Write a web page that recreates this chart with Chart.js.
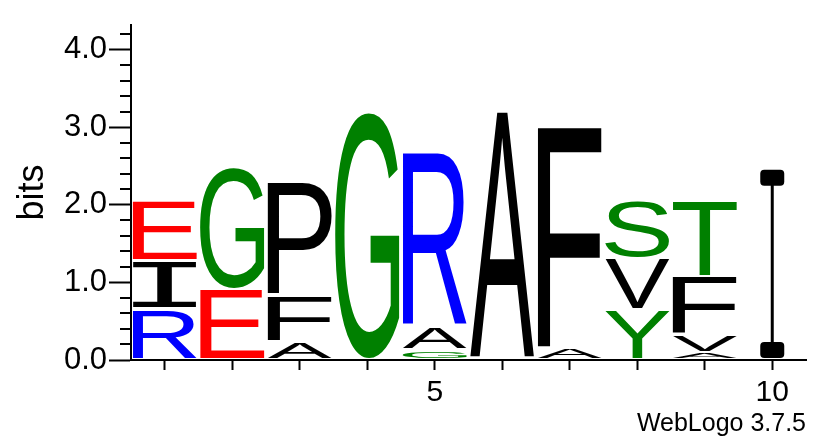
<!DOCTYPE html>
<html>
<head>
<meta charset="utf-8">
<script src="https://cdn.jsdelivr.net/npm/chart.js@4.4.1/dist/chart.umd.min.js"></script>
<style>
  html, body { margin: 0; padding: 0; background: #fff; }
  canvas { display: block; }
</style>
</head>
<body>
<canvas id="logo" width="831" height="444"></canvas>
<script>
// sequence positions and which of them get a tick label
const positions = ["1", "2", "3", "4", "5", "6", "7", "8", "9", "10"];
const labelledTicks = ["5", "10"];
const yMajorTicks = [0, 1, 2, 3, 4];

// stack layers, bottom to top (letter + height in bits per position)
const layer1Letters = ["R", "E", "A", "G", "G", "A", "A", "Y", "A", ""];
const layer1Bits = [0.66, 0.92, 0.245, 3.205, 0.13, 3.215, 0.16, 0.65, 0.10, 0];
const layer2Letters = ["I", "G", "F", "", "A", "", "F", "V", "V", ""];
const layer2Bits = [0.62, 1.585, 0.605, 0, 0.30, 0, 2.855, 0.66, 0.24, 0];
const layer3Letters = ["E", "", "P", "", "R", "", "", "S", "F", ""];
const layer3Bits = [0.785, 0, 1.455, 0, 2.255, 0, 0, 0.755, 0.74, 0];
const layer4Letters = ["", "", "", "", "", "", "", "", "T", ""];
const layer4Bits = [0, 0, 0, 0, 0, 0, 0, 0, 0.985, 0];

// error bars (only the last column has one)
const errorLow = [null, null, null, null, null, null, null, null, null, 0.13];
const errorHigh = [null, null, null, null, null, null, null, null, null, 2.35];

const layerLetters = [layer1Letters, layer2Letters, layer3Letters, layer4Letters];
const layerBits = [layer1Bits, layer2Bits, layer3Bits, layer4Bits];

// weblogo "chemistry" colours
const residueColors = {
  G: "#008000", S: "#008000", T: "#008000", Y: "#008000", C: "#008000",
  K: "#0000FF", R: "#0000FF", H: "#0000FF",
  D: "#FF0000", E: "#FF0000",
  N: "#800080", Q: "#800080",
};

const FONT = "'Liberation Sans', Arial, Helvetica, sans-serif";
// the sans "I" is a plain bar, the mono one has the cross bars weblogo shows
const MONO = "'Liberation Mono', 'DejaVu Sans Mono', monospace";

const drawGlyph = (ctx, ch, left, right, top, bottom, color) => {
  const size = 200;
  ctx.save();
  ctx.font = ch === "I" ? `${size}px ${MONO}` : `${size}px ${FONT}`;
  const m = ctx.measureText(ch);
  const gw = m.actualBoundingBoxLeft + m.actualBoundingBoxRight;
  const gh = m.actualBoundingBoxAscent + m.actualBoundingBoxDescent;
  ctx.translate(left, top);
  ctx.scale((right - left) / gw, (bottom - top) / gh);
  ctx.fillStyle = color;
  ctx.textBaseline = "alphabetic";
  ctx.textAlign = "left";
  ctx.fillText(ch, m.actualBoundingBoxLeft, m.actualBoundingBoxAscent);
  ctx.restore();
};

const logoPlugin = {
  id: "logoLetters",
  afterDatasetsDraw: (chart) => {
    const ctx = chart.ctx;
    chart.data.datasets.forEach((ds, di) => {
      const meta = chart.getDatasetMeta(di);
      meta.data.forEach((bar, i) => {
        const ch = layerLetters[di][i];
        if (!ch || !layerBits[di][i]) return;
        const { x, y, base, width } = bar.getProps(["x", "y", "base", "width"], true);
        const padX = 1.7;
        const padY = 1.4;
        drawGlyph(ctx, ch, x - width / 2 + padX, x + width / 2 - padX,
          y + padY, base - padY, residueColors[ch] || "#000000");
      });
    });

    // error bars
    const xs = chart.scales.x;
    const ys = chart.scales.y;
    ctx.save();
    ctx.fillStyle = "#000";
    ctx.strokeStyle = "#000";
    positions.forEach((p, i) => {
      if (errorLow[i] === null) return;
      const cx = xs.getPixelForValue(i);
      const yLo = ys.getPixelForValue(errorLow[i]);
      const yHi = ys.getPixelForValue(errorHigh[i]);
      ctx.lineWidth = 3;
      ctx.beginPath();
      ctx.moveTo(cx, yLo);
      ctx.lineTo(cx, yHi);
      ctx.stroke();
      [yLo, yHi].forEach((cy) => {
        ctx.beginPath();
        ctx.roundRect(cx - 12, cy - 8, 24, 16, 4);
        ctx.fill();
      });
    });
    ctx.restore();
  },
  afterDraw: (chart) => {
    // minor ticks on the bits axis
    const ys = chart.scales.y;
    const ctx = chart.ctx;
    const left = chart.chartArea.left;
    ctx.save();
    ctx.strokeStyle = "#000";
    ctx.lineWidth = 2;
    for (let k = 1; k <= 21; k++) {
      if (k % 5 === 0) continue;
      const py = Math.round(ys.getPixelForValue(k * 0.2));
      ctx.beginPath();
      ctx.moveTo(left - 11, py);
      ctx.lineTo(left, py);
      ctx.stroke();
    }
    ctx.restore();
  },
};

const main = () => {
  Chart.defaults.font.family = FONT;
  Chart.defaults.color = "#000";

  const datasets = layerBits.map((bits, i) => ({
    label: `layer ${i + 1}`,
    data: bits,
    backgroundColor: "rgba(0,0,0,0)",
    borderWidth: 0,
    barPercentage: 1,
    categoryPercentage: 1,
  }));

  new Chart(document.querySelector("#logo"), {
    type: "bar",
    data: { labels: positions, datasets },
    options: {
      responsive: false,
      animation: false,
      layout: { padding: { top: 25, right: 25, left: 0, bottom: 0 } },
      plugins: { legend: { display: false }, tooltip: { enabled: false } },
      scales: {
        x: {
          stacked: true,
          offset: true,
          afterFit: (axis) => { axis.height = 84; },
          grid: {
            offset: false,
            drawOnChartArea: false,
            tickLength: 10,
            tickWidth: 2,
            tickColor: "#000",
          },
          border: { color: "#000", width: 2 },
          ticks: {
            autoSkip: false,
            maxRotation: 0,
            padding: 5,
            font: { size: 30 },
            callback: (value, index) => labelledTicks.includes(positions[index]) ? positions[index] : "",
          },
          title: {
            display: true,
            text: "WebLogo 3.7.5",
            align: "end",
            font: { size: 25 },
            padding: { top: 0, bottom: 5 },
          },
        },
        y: {
          stacked: true,
          min: 0,
          max: 4.32,
          afterFit: (axis) => { axis.width = 131; },
          afterBuildTicks: (axis) => { axis.ticks = yMajorTicks.map((v) => ({ value: v })); },
          grid: {
            drawOnChartArea: false,
            tickLength: 22,
            tickWidth: 2,
            tickColor: "#000",
          },
          border: { color: "#000", width: 2 },
          ticks: {
            padding: 2,
            font: { size: 31 },
            callback: (value) => Number(value).toFixed(1),
          },
          title: {
            display: true,
            text: "bits",
            font: { size: 36 },
            padding: { top: 11, bottom: 0 },
          },
        },
      },
    },
    plugins: [logoPlugin],
  });
};

document.addEventListener("DOMContentLoaded", main);
</script>
</body>
</html>
